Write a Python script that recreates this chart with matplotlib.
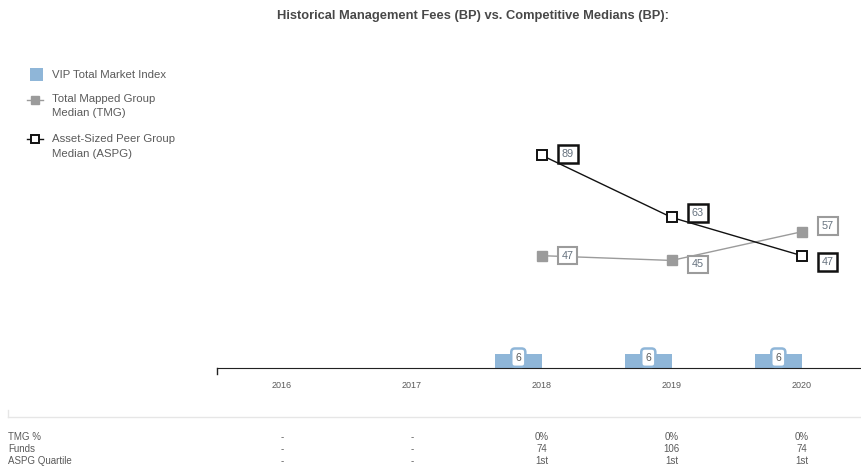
"""
Historical management fees vs. competitive medians
"""

import numpy as np
import matplotlib
matplotlib.use("Agg")
import matplotlib.pyplot as plt
from matplotlib.lines import Line2D
from matplotlib.patches import Rectangle

plt.rcParams["font.family"] = ["Liberation Sans", "DejaVu Sans"]

# 数据
years = ["2016", "2017", "2018", "2019", "2020"]
vip_fee = [np.nan, np.nan, 6, 6, 6]
tmg_median = [np.nan, np.nan, 47, 45, 57]
aspg_median = [np.nan, np.nan, 89, 63, 47]

row_names = ["TMG %", "Funds", "ASPG Quartile"]
tmg_pct = ["-", "-", "0%", "0%", "0%"]
funds = ["-", "-", "74", "106", "74"]
aspg_quartile = ["-", "-", "1st", "1st", "1st"]

BLUE = "#8fb6d8"
GREY = "#9b9b9b"
TXT = "#5a5a5a"
LBL = "#66727f"

W, H = 862, 471
fig = plt.figure(figsize=(W / 100, H / 100), dpi=100)


def fx(px):
    return px / W


def fy(py):
    return 1 - py / H


# axes placed in pixel coordinates (right edge runs past the figure)
left, right, bottom, top = 216.7, 866.7, 368, 129
ax = fig.add_axes([fx(left), fy(bottom), (right - left) / W, (bottom - top) / H])
ax.set_xlim(-0.5, len(years) - 0.5)
ax.set_ylim(0, 100)
x = np.arange(len(years))

# bars (sit left of the category centre)
ax.bar(x, vip_fee, width=-0.36, align="edge", color=BLUE, zorder=2)
for xi, v in zip(x, vip_fee):
    if np.isnan(v):
        continue
    ax.annotate(f"{v:g}", (xi - 0.18, v), xytext=(0, -4), textcoords="offset pixels",
                ha="center", va="center", fontsize=7.5, color=TXT, zorder=4,
                bbox=dict(boxstyle="round,pad=0.4,rounding_size=0.35", fc="white", ec=BLUE, lw=1.8))

# lines
ax.plot(x, tmg_median, color=GREY, lw=1, marker="s", ms=7, mfc=GREY, mec=GREY, zorder=3)
ax.plot(x, aspg_median, color="#111111", lw=1, marker="s", ms=6.5, mfc="white", mec="#111111",
        mew=1.4, zorder=3)

tmg_offsets = [None, None, (26, 0), (26, -4), (26, 6)]
aspg_offsets = [None, None, (26, 1), (26, 4.5), (26, -6.5)]
for xi, v, off in zip(x, tmg_median, tmg_offsets):
    if np.isnan(v):
        continue
    ax.annotate(f"{v:g}", (xi, v), xytext=off, textcoords="offset pixels", ha="center",
                va="center", fontsize=7.8, color=LBL, zorder=5,
                bbox=dict(boxstyle="square,pad=0.35", fc="white", ec=GREY, lw=1.5))
for xi, v, off in zip(x, aspg_median, aspg_offsets):
    if np.isnan(v):
        continue
    ax.annotate(f"{v:g}", (xi, v), xytext=off, textcoords="offset pixels", ha="center",
                va="center", fontsize=7.8, color=LBL, zorder=5,
                bbox=dict(boxstyle="square,pad=0.35", fc="white", ec="#111111", lw=1.8))

for s in ["top", "right", "left"]:
    ax.spines[s].set_visible(False)
ax.spines["bottom"].set_color("#222222")
ax.set_yticks([])
ax.set_xticks(x)
ax.set_xticklabels(years, fontsize=6.5, color=TXT)
ax.tick_params(axis="x", length=0, pad=9)
# small tick at the left end of the axis
ax.plot([-0.5, -0.5], [0, -2.5], color="#222222", lw=1, clip_on=False)

# title
fig.text(fx(473), fy(16), "Historical Management Fees (BP) vs. Competitive Medians (BP):",
         ha="center", va="center", fontsize=9.3, fontweight="bold", color="#484848")

# legend, drawn by hand
fig.add_artist(Rectangle((fx(30), fy(81)), 13 / W, 13 / H, transform=fig.transFigure,
                         fc=BLUE, ec="none"))
fig.add_artist(Line2D([fx(27), fx(43)], [fy(100)] * 2, color=GREY, lw=1))
fig.add_artist(Line2D([fx(35)], [fy(100)], marker="s", ms=6, mfc=GREY, mec=GREY, lw=0))
fig.add_artist(Line2D([fx(27), fx(43)], [fy(139)] * 2, color="#111111", lw=1))
fig.add_artist(Line2D([fx(35)], [fy(139)], marker="s", ms=6, mfc="white", mec="#111111",
                      mew=1.4, lw=0))
legend_labels = ["VIP Total Market Index", "Total Mapped Group\nMedian (TMG)",
                 "Asset-Sized Peer Group\nMedian (ASPG)"]
legend_y = [76, 99, 140]
for lab, ly in zip(legend_labels, legend_y):
    # top-anchored so the first line sits on ly
    fig.text(fx(52), fy(ly - 5.5), lab, ha="left", va="top", fontsize=8.2, color=TXT,
             linespacing=1.6)

# table below the chart
fig.add_artist(Line2D([fx(8), 1], [fy(417)] * 2, color="#e6e6e6", lw=1))
fig.add_artist(Line2D([fx(8), fx(8)], [fy(417), fy(410)], color="#e6e6e6", lw=1))
rows = [tmg_pct, funds, aspg_quartile]
row_y = [437, 449, 461]
for name, vals, ry in zip(row_names, rows, row_y):
    fig.text(fx(8), fy(ry), name, ha="left", va="center", fontsize=7, color=TXT)
    for xi, v in zip(x, vals):
        px = left + (xi + 0.5) * (right - left) / len(years)
        fig.text(fx(px), fy(ry), v, ha="center", va="center", fontsize=7, color=TXT)

fig.savefig("out.png", dpi=100)
